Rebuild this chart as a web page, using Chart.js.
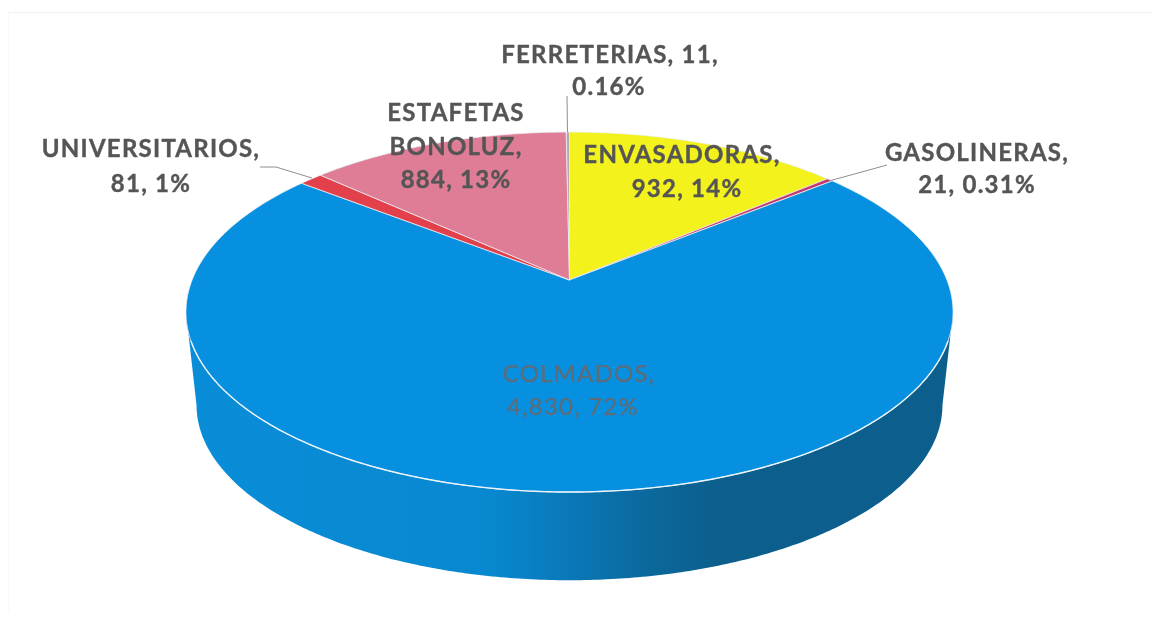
<!DOCTYPE html>
<html>
<head>
<meta charset="utf-8">
<script src="https://cdn.jsdelivr.net/npm/chart.js@4"></script>
<style>
html,body{margin:0;padding:0;background:#fff;overflow:hidden}
#wrap{width:1153px;height:620px;position:relative}
#scan{position:absolute;left:8px;top:12px;width:1145px;height:600px;border-top:1px solid #f1f1f1;border-left:1px solid #f8f8f8;box-sizing:border-box}
canvas{display:block;position:relative;filter:blur(0.6px)}
</style>
</head>
<body>
<div id="wrap"><div id="scan"></div><canvas id="c" width="1153" height="620"></canvas></div>
<script>
const categories = ["ENVASADORAS","GASOLINERAS","COLMADOS","UNIVERSITARIOS","ESTAFETAS BONOLUZ","FERRETERIAS"];
const values = [932,21,4830,81,884,11];
const percentLabels = ["14%","0.31%","72%","1%","13%","0.16%"];
const sliceColors = ["#F4F21C","#C2396B","#0890E0","#E2404B","#DE7D95","#B9A9AE"];

const topDisc = {cx:569.5, cy:280, a:377.4, b:174.3, k:0.178};
const baseDisc = {cx:569.5, cy:374, a:367, b:169.5, k:0.178};

function proj(d,u,v){
  const w = 1 - d.k*v;
  return [d.cx + d.a*u/w, d.cy + d.b*v/w];
}
function arcPoints(d,start,end){
  const n = Math.max(2, Math.ceil(Math.abs(end-start)/0.01));
  const out = [];
  for(let i=0;i<=n;i++){
    const t = start+(end-start)*i/n;
    out.push(proj(d,Math.cos(t),Math.sin(t)));
  }
  return out;
}
function trace(ctx,pts){ pts.forEach((p,i)=> i?ctx.lineTo(p[0],p[1]):ctx.moveTo(p[0],p[1])); }

const twoLine = i=>[categories[i]+",", values[i].toLocaleString("en-US")+", "+percentLabels[i]];
const labelLayout = [
  {lines:twoLine, x:[682,687], y:[155,189]},
  {lines:twoLine, x:[977,977], y:[153,185]},
  {lines:twoLine, x:[579,573], y:[374,407], thin:true},
  {lines:twoLine, x:[151,151], y:[149,184]},
  {lines:i=>[categories[i].split(" ")[0], categories[i].split(" ")[1]+",", values[i].toLocaleString("en-US")+", "+percentLabels[i]], x:[456,456,456], y:[113,147,180]},
  {lines:i=>[categories[i]+", "+values[i]+",", percentLabels[i]], x:[610,609], y:[55,87]}
];
const leaders = [
  [[887,165],[829,181]],
  [[260,167],[276,167],[312,178]],
  [[567,96],[567.5,132]]
];

const pie3d = {
  id:"pie3d",
  beforeDatasetsDraw(chart){
    const ctx = chart.ctx;
    const arcs = chart.getDatasetMeta(0).data;
    ctx.save();

    // side wall of the pie
    const edge = Math.asin(topDisc.k);
    const g = ctx.createLinearGradient(186,0,953,0);
    g.addColorStop(0,"#0A8DD8");
    g.addColorStop(0.40,"#0888CF");
    g.addColorStop(0.50,"#0A78B8");
    g.addColorStop(0.59,"#0B6A9F");
    g.addColorStop(0.69,"#0C5F8C");
    g.addColorStop(1,"#0C5F8C");
    ctx.beginPath();
    trace(ctx,arcPoints(topDisc,edge,Math.PI-edge));
    arcPoints(baseDisc,Math.PI-edge,edge).forEach(p=>ctx.lineTo(p[0],p[1]));
    ctx.closePath();
    ctx.fillStyle = g;
    ctx.fill();

    // top face, one wedge per arc element
    arcs.forEach((el,i)=>{
      const p = el.getProps(["startAngle","endAngle"],true);
      ctx.beginPath();
      ctx.moveTo(topDisc.cx,topDisc.cy);
      arcPoints(topDisc,p.startAngle,p.endAngle).forEach(q=>ctx.lineTo(q[0],q[1]));
      ctx.closePath();
      ctx.fillStyle = sliceColors[i];
      ctx.fill();
      ctx.lineWidth = 0.9;
      ctx.strokeStyle = "rgba(235,240,245,0.85)";
      ctx.stroke();
    });

    // white rim along the front edge
    const rim = Math.asin(0.33);
    ctx.beginPath();
    trace(ctx,arcPoints(topDisc,rim,Math.PI-rim));
    ctx.lineWidth = 1.4;
    ctx.strokeStyle = "#EAF4FA";
    ctx.stroke();

    // leader lines
    ctx.strokeStyle = "#8F8F8F";
    ctx.lineWidth = 1;
    leaders.forEach(l=>{ctx.beginPath();trace(ctx,l);ctx.stroke();});

    // labels
    ctx.textAlign = "center";
    ctx.textBaseline = "middle";
    ctx.lineJoin = "round";
    labelLayout.forEach((l,i)=>{
      const lines = l.lines(i);
      ctx.font = (l.thin?"400":"700")+" 24px Lato, sans-serif";
      ctx.letterSpacing = l.thin ? "1.2px" : "1.25px";
      ctx.fillStyle = l.thin ? "#5F6C78" : "#555555";
      ctx.strokeStyle = ctx.fillStyle;
      ctx.lineWidth = l.thin ? 0.25 : 0.4;
      lines.forEach((t,j)=>{ctx.fillText(t,l.x[j],l.y[j]);ctx.strokeText(t,l.x[j],l.y[j]);});
    });
    ctx.restore();
    return false;
  }
};

new Chart(document.getElementById("c"),{
  type:"pie",
  data:{labels:categories,datasets:[{data:values,backgroundColor:sliceColors,borderWidth:0}]},
  options:{
    responsive:false,
    animation:false,
    plugins:{legend:{display:false},tooltip:{enabled:false}}
  },
  plugins:[pie3d]
});
</script>
</body>
</html>
